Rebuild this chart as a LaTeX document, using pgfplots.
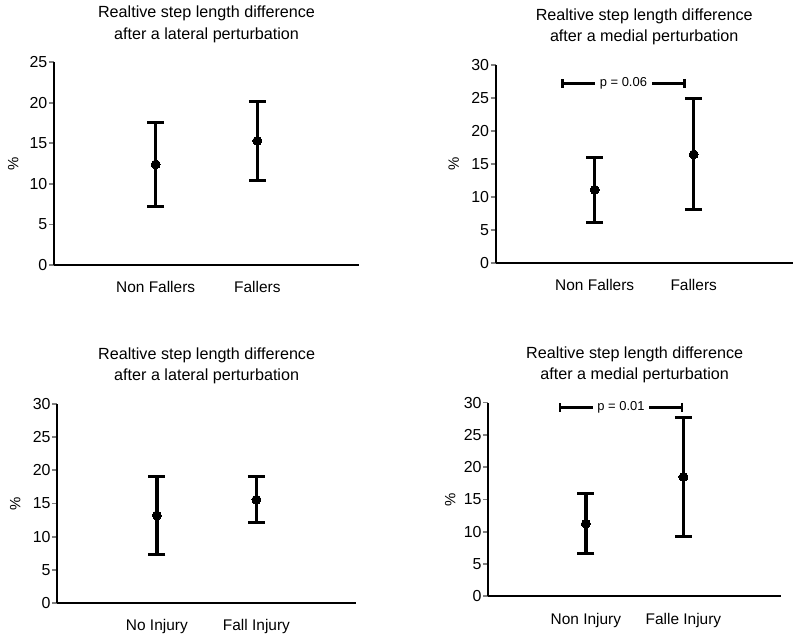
\documentclass[border=0pt]{standalone}
\usepackage{fontspec}
\setmainfont{Liberation Sans}
\usepackage{pgfplots}
\pgfplotsset{compat=1.18}
\usetikzlibrary{arrows.meta}

\pgfplotsset{
  panel/.style={
    scale only axis, anchor=south west, clip=false,
    axis x line=bottom, axis y line=left,
    axis line style={-, line width=1.8bp},
    xmin=0, xmax=3, ymin=0, ymax=30, ytick distance=5,
    xtick={1,2}, xtick style={draw=none},
    ytick align=outside, major tick length=5bp,
    ytick style={line width=1.8bp},
    /pgf/number format/assume math mode=true,
    yticklabel style={font=\fontsize{16}{16}\selectfont, inner sep=1.5bp},
    xticklabel style={font=\fontsize{15.5}{16}\selectfont, inner sep=0pt, yshift=-14bp},
    title style={at={(0.5,1)}, anchor=center, yshift=32bp, align=center,
      font=\fontsize{16.2}{20}\selectfont},
    ylabel={\%}, ylabel style={font=\fontsize{15}{16}\selectfont, anchor=center},
  },
  means/.style={black, only marks, mark=*, mark size=4.5bp,
    mark options={line width=0pt},
    error bars/.cd, y dir=both, y explicit,
    error bar style={line width=3.5bp},
    error mark options={rotate=90, line width=3bp, mark size=8.5bp}},
}

\begin{document}
\begin{tikzpicture}
\path[use as bounding box] (0,0) rectangle (800bp,640bp);

% top left
\begin{axis}[panel, at={(54bp,375bp)}, width=305bp, height=202.7bp, ymax=25,
  xticklabels={Non Fallers, Fallers},
  ylabel style={at={(axis description cs:-0.134,0.5)}},
  title={Realtive step length difference\\[1.5bp]after a lateral perturbation}]
\addplot[means] table[y error=e] {
x y e
1 12.4 5.15
2 15.3 4.9
};
\end{axis}

% top right
\begin{axis}[panel, at={(495.7bp,377bp)}, width=297bp, height=198bp,
  xticklabels={Non Fallers, Fallers},
  ylabel style={at={(axis description cs:-0.141,0.5)}},
  title={Realtive step length difference\\[1.5bp]after a medial perturbation}]
\addplot[means] table[y error=e] {
x y e
1 11.1 4.95
2 16.45 8.4
};
\draw[line width=2.6bp, {Bar[width=9bp]}-{Bar[width=9bp]}]
  (axis cs:0.66,27.2) -- (axis cs:1.92,27.2)
  node[midway, fill=white, inner sep=4.5bp, font=\fontsize{13}{13}\selectfont] {p = 0.06};
\end{axis}

% bottom left
\begin{axis}[panel, at={(57.3bp,37bp)}, width=298.7bp, height=199bp,
  xticklabels={No Injury, Fall Injury},
  ylabel style={at={(axis description cs:-0.141,0.5)}},
  title={Realtive step length difference\\[1.5bp]after a lateral perturbation}]
\addplot[means] table[y error=e] {
x y e
1 13.2 5.85
2 15.57 3.5
};
\end{axis}

% bottom right
\begin{axis}[panel, at={(488.3bp,43.7bp)}, width=292.7bp, height=193.7bp,
  xticklabels={Non Injury, Falle Injury},
  ylabel style={at={(axis description cs:-0.13,0.5)}},
  title={Realtive step length difference\\[1.5bp]after a medial perturbation}]
\addplot[means] table[y error=e] {
x y e
1 11.25 4.6
2 18.48 9.19
};
\draw[line width=2.6bp, {Bar[width=9bp]}-{Bar[width=9bp]}]
  (axis cs:0.72,29.27) -- (axis cs:2.0,29.27)
  node[midway, fill=white, inner sep=4.5bp, font=\fontsize{13}{13}\selectfont] {p = 0.01};
\end{axis}
\end{tikzpicture}
\end{document}
